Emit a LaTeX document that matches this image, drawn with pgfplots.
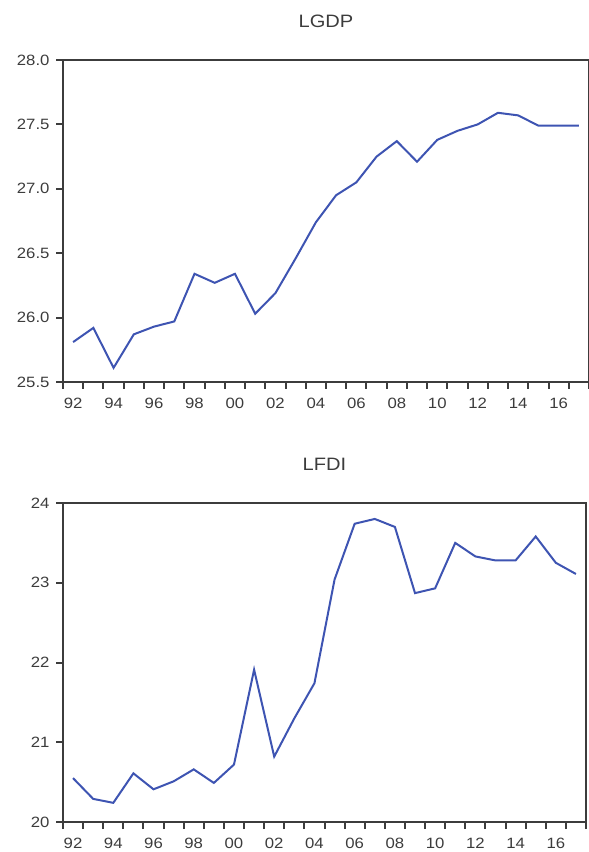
\documentclass[border=0pt]{standalone}
\usepackage{fontspec}
\setmainfont{Liberation Sans}[FakeStretch=1.12]
\usepackage{pgfplots}
\pgfplotsset{compat=1.18}
\definecolor{ser}{RGB}{62,84,178}
\definecolor{ax}{RGB}{60,60,60}
\pgfplotsset{
 ev/.style={
  scale only axis,
  xmin=1991.5, xmax=2017.5,
  axis line style={ax, line width=2bp},
  tick align=outside, tick pos=left,
  major tick length=7bp,
  tick style={ax, line width=2bp},
  xtick={1991.5,1992.5,1993.5,1994.5,1995.5,1996.5,1997.5,1998.5,1999.5,2000.5,2001.5,2002.5,2003.5,2004.5,2005.5,2006.5,2007.5,2008.5,2009.5,2010.5,2011.5,2012.5,2013.5,2014.5,2015.5,2016.5,2017.5},
  xticklabels={},
  extra x ticks={1992,1994,1996,1998,2000,2002,2004,2006,2008,2010,2012,2014,2016},
  extra x tick labels={92,94,96,98,00,02,04,06,08,10,12,14,16},
  extra x tick style={major tick length=0pt, tick label style={yshift=-13bp}},
  yticklabel style={xshift=-3bp},
  tick label style={font=\fontsize{15}{18}\selectfont, text=ax},
  title style={font=\fontsize{18}{21}\selectfont, text=ax, at={(0.5,1)}, anchor=center, yshift=33bp},
  /pgf/number format/assume math mode=true,
  clip=false,
 }}
\begin{document}
\begin{tikzpicture}
\useasboundingbox (0bp,0bp) rectangle (589bp,852bp);
\begin{axis}[ev, at={(63bp,470bp)}, anchor=south west, width=526bp, height=322bp,
  ymin=25.5, ymax=28, ytick={25.5,26.0,26.5,27.0,27.5,28.0},
  yticklabel style={/pgf/number format/.cd, fixed, fixed zerofill, precision=1},
  title={LGDP}]
\addplot[ser, line width=2bp] coordinates {
(1992,25.81) (1993,25.92) (1994,25.61) (1995,25.87) (1996,25.93) (1997,25.97)
(1998,26.34) (1999,26.27) (2000,26.34) (2001,26.03) (2002,26.19) (2003,26.46)
(2004,26.74) (2005,26.95) (2006,27.05) (2007,27.25) (2008,27.37) (2009,27.21)
(2010,27.38) (2011,27.45) (2012,27.50) (2013,27.59) (2014,27.57) (2015,27.49)
(2016,27.49) (2017,27.49)};
\end{axis}
\begin{axis}[ev, at={(63bp,30bp)}, anchor=south west, width=523bp, height=319bp,
  ymin=20, ymax=24, ytick={20,21,22,23,24},
  title={LFDI}]
\addplot[ser, line width=2bp] coordinates {
(1992,20.55) (1993,20.29) (1994,20.24) (1995,20.61) (1996,20.41) (1997,20.51)
(1998,20.66) (1999,20.49) (2000,20.72) (2001,21.91) (2002,20.82) (2003,21.30)
(2004,21.74) (2005,23.04) (2006,23.74) (2007,23.80) (2008,23.70) (2009,22.87)
(2010,22.93) (2011,23.50) (2012,23.33) (2013,23.28) (2014,23.28) (2015,23.58)
(2016,23.25) (2017,23.11)};
\end{axis}
\end{tikzpicture}
\end{document}
